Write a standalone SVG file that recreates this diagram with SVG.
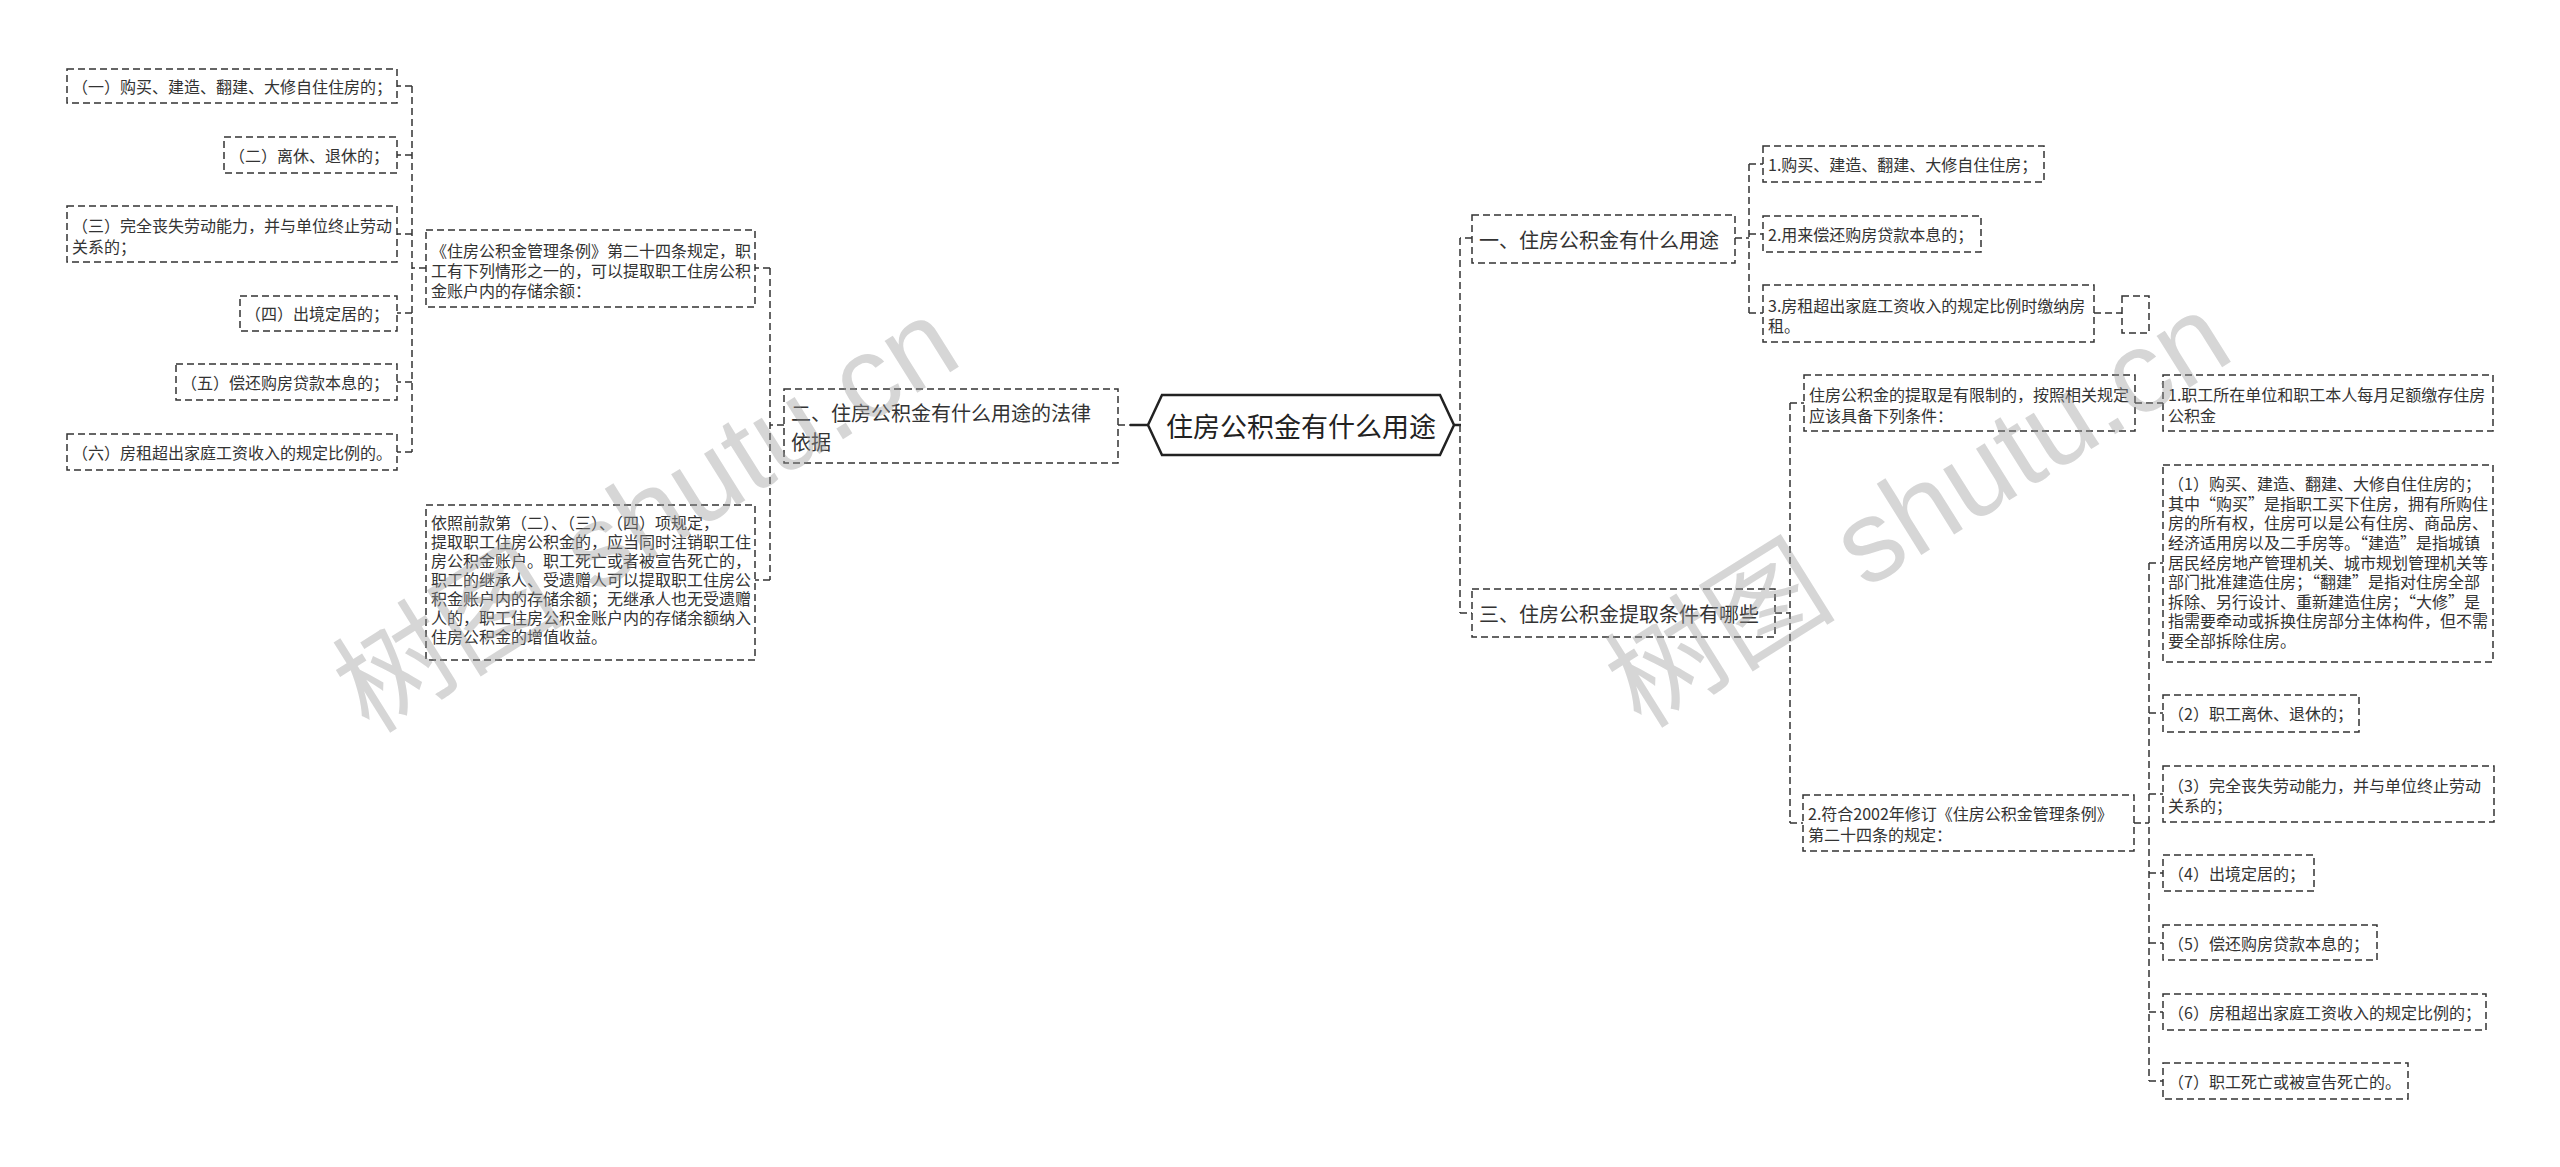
<svg xmlns="http://www.w3.org/2000/svg" width="2560" height="1167" viewBox="0 0 2560 1167">
<style>
.b{fill:#fff;stroke:#333;stroke-width:1.5;stroke-dasharray:7 4}
.t{font-family:"Noto Sans CJK SC","Liberation Sans",sans-serif;font-size:16px;fill:#333;dominant-baseline:central}
.t2{font-family:"Noto Sans CJK SC","Liberation Sans",sans-serif;font-size:20px;fill:#333;dominant-baseline:central}
.c{fill:none;stroke:#333;stroke-width:1.5;stroke-dasharray:7 4}
.s{fill:none;stroke:#222;stroke-width:2.5}
.wm{font-family:"Liberation Sans","Noto Sans CJK SC",sans-serif;font-size:116px;fill:#999;fill-opacity:0.4;dominant-baseline:central;text-anchor:middle}
</style>
<rect width="2560" height="1167" fill="#fff"/>
<g id="connectors">
<path class="c" d="M412,86V452M426,268H412M412,86H397M412,155H397M412,234H397M412,313H397M412,382H397M412,452H397"/>
<path class="c" d="M770,268V580M784,425H770M770,268H755M770,580H755"/>
<path class="c" d="M1118,425H1130"/>
<path class="s" d="M1130,425H1148"/>
<path class="s" d="M1454,425H1461"/>
<path class="c" d="M1460,238V613M1472,238H1460M1460,613H1473"/>
<path class="c" d="M1749,164V313M1735,238H1749M1749,164H1763M1749,234H1763M1749,313H1763"/>
<path class="c" d="M2094,313H2122"/>
<path class="c" d="M1790,403V823M1775,613H1790M1790,403H1804M1790,823H1803"/>
<path class="c" d="M2135,403H2163"/>
<path class="c" d="M2149,563V1081M2134,823H2149M2149,563H2163M2149,713H2163M2149,794H2163M2149,873H2163M2149,943H2163M2149,1012H2163M2149,1081H2163"/>
</g>
<g id="root">
<polygon points="1148,425 1162,395 1440,395 1454,425 1440,455 1162,455" fill="#fff" stroke="#222" stroke-width="2.5"/>
<text x="1301" y="425" text-anchor="middle" style="font-family:'Noto Sans CJK SC',sans-serif;font-size:27px;fill:#222;dominant-baseline:central">住房公积金有什么用途</text>
</g>
<g id="n-l1"><rect class="b" x="67" y="69" width="330" height="34"/><text class="t" x="72" y="86">（一）购买、建造、翻建、大修自住住房的；</text></g>
<g id="n-l2"><rect class="b" x="224" y="137" width="173" height="36"/><text class="t" x="229" y="155">（二）离休、退休的；</text></g>
<g id="n-l3"><rect class="b" x="67" y="206" width="330" height="56"/><text class="t" x="72" y="225">（三）完全丧失劳动能力，并与单位终止劳动</text><text class="t" x="72" y="246">关系的；</text></g>
<g id="n-l4"><rect class="b" x="240" y="296" width="157" height="35"/><text class="t" x="245" y="313">（四）出境定居的；</text></g>
<g id="n-l5"><rect class="b" x="176" y="364" width="221" height="36"/><text class="t" x="181" y="382">（五）偿还购房贷款本息的；</text></g>
<g id="n-l6"><rect class="b" x="67" y="434" width="330" height="36"/><text class="t" x="72" y="452">（六）房租超出家庭工资收入的规定比例的。</text></g>
<g id="n-m1"><rect class="b" x="426" y="230" width="329" height="77"/>
<text class="t" x="431" y="250">《住房公积金管理条例》第二十四条规定，职</text>
<text class="t" x="431" y="270">工有下列情形之一的，可以提取职工住房公积</text>
<text class="t" x="431" y="290">金账户内的存储余额：</text></g>
<g id="n-m2"><rect class="b" x="426" y="505" width="329" height="155"/>
<text class="t" x="431" y="522">依照前款第（二）、（三）、（四）项规定，</text>
<text class="t" x="431" y="541">提取职工住房公积金的，应当同时注销职工住</text>
<text class="t" x="431" y="560">房公积金账户。职工死亡或者被宣告死亡的，</text>
<text class="t" x="431" y="579">职工的继承人、受遗赠人可以提取职工住房公</text>
<text class="t" x="431" y="598">积金账户内的存储余额；无继承人也无受遗赠</text>
<text class="t" x="431" y="617">人的，职工住房公积金账户内的存储余额纳入</text>
<text class="t" x="431" y="636">住房公积金的增值收益。</text></g>
<g id="n-m3"><rect class="b" x="784" y="389" width="334" height="74"/>
<text class="t2" x="791" y="412">二、住房公积金有什么用途的法律</text>
<text class="t2" x="791" y="441">依据</text></g>
<g id="n-r1"><rect class="b" x="1472" y="215" width="263" height="48"/><text class="t2" x="1479" y="239">一、住房公积金有什么用途</text></g>
<g id="n-r1a"><rect class="b" x="1763" y="146" width="281" height="36"/><text class="t" x="1768" y="164">1.购买、建造、翻建、大修自住住房；</text></g>
<g id="n-r1b"><rect class="b" x="1763" y="216" width="218" height="36"/><text class="t" x="1768" y="234">2.用来偿还购房贷款本息的；</text></g>
<g id="n-r1c"><rect class="b" x="1763" y="285" width="331" height="57"/><text class="t" x="1768" y="305">3.房租超出家庭工资收入的规定比例时缴纳房</text><text class="t" x="1768" y="325">租。</text></g>
<g id="n-r1d"><rect class="b" x="2122" y="296" width="27" height="37"/></g>
<g id="n-r3"><rect class="b" x="1472" y="589" width="303" height="48"/><text class="t2" x="1479" y="613">三、住房公积金提取条件有哪些</text></g>
<g id="n-r3a"><rect class="b" x="1804" y="375" width="331" height="56"/><text class="t" x="1809" y="394">住房公积金的提取是有限制的，按照相关规定</text><text class="t" x="1809" y="415">应该具备下列条件：</text></g>
<g id="n-r3a1"><rect class="b" x="2163" y="375" width="330" height="56"/><text class="t" x="2168" y="394">1.职工所在单位和职工本人每月足额缴存住房</text><text class="t" x="2168" y="415">公积金</text></g>
<g id="n-r3b"><rect class="b" x="1803" y="795" width="331" height="56"/><text class="t" x="1808" y="813">2.符合2002年修订《住房公积金管理条例》</text><text class="t" x="1808" y="834">第二十四条的规定：</text></g>
<g id="n-r3b1"><rect class="b" x="2163" y="465" width="330" height="197"/>
<text class="t" x="2168" y="483">（1）购买、建造、翻建、大修自住住房的；</text>
<text class="t" x="2168" y="503">其中“购买”是指职工买下住房，拥有所购住</text>
<text class="t" x="2168" y="522">房的所有权，住房可以是公有住房、商品房、</text>
<text class="t" x="2168" y="542">经济适用房以及二手房等。“建造”是指城镇</text>
<text class="t" x="2168" y="562">居民经房地产管理机关、城市规划管理机关等</text>
<text class="t" x="2168" y="581">部门批准建造住房；“翻建”是指对住房全部</text>
<text class="t" x="2168" y="601">拆除、另行设计、重新建造住房；“大修”是</text>
<text class="t" x="2168" y="620">指需要牵动或拆换住房部分主体构件，但不需</text>
<text class="t" x="2168" y="640">要全部拆除住房。</text></g>
<g id="n-r3b2"><rect class="b" x="2163" y="695" width="196" height="37"/><text class="t" x="2168" y="713">（2）职工离休、退休的；</text></g>
<g id="n-r3b3"><rect class="b" x="2163" y="766" width="331" height="56"/><text class="t" x="2168" y="785">（3）完全丧失劳动能力，并与单位终止劳动</text><text class="t" x="2168" y="805">关系的；</text></g>
<g id="n-r3b4"><rect class="b" x="2163" y="855" width="151" height="36"/><text class="t" x="2168" y="873">（4）出境定居的；</text></g>
<g id="n-r3b5"><rect class="b" x="2163" y="925" width="214" height="35"/><text class="t" x="2168" y="943">（5）偿还购房贷款本息的；</text></g>
<g id="n-r3b6"><rect class="b" x="2163" y="994" width="323" height="36"/><text class="t" x="2168" y="1012">（6）房租超出家庭工资收入的规定比例的；</text></g>
<g id="n-r3b7"><rect class="b" x="2163" y="1063" width="245" height="36"/><text class="t" x="2168" y="1081">（7）职工死亡或被宣告死亡的。</text></g>
<g id="watermark">
<text class="wm" transform="translate(646,515) rotate(-32)">树图 shutu.cn</text>
<text class="wm" transform="translate(1918,510) rotate(-32)">树图 shutu.cn</text>
</g>
</svg>
